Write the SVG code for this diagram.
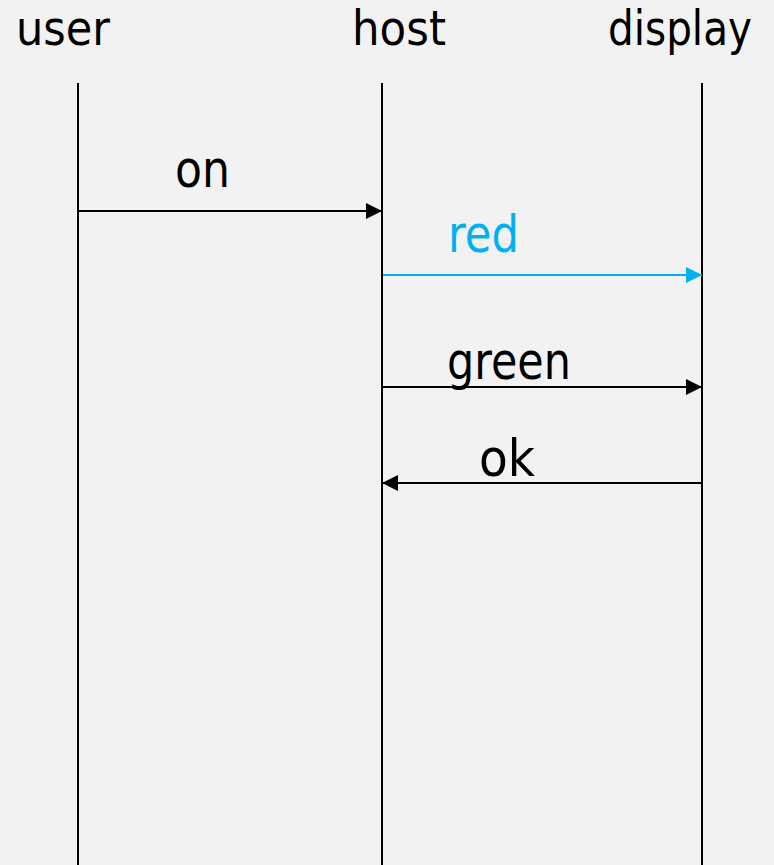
<svg xmlns="http://www.w3.org/2000/svg" width="774" height="865" viewBox="0 0 774 865">
  <style>
    .label { font-family: "DejaVu Sans", "Liberation Sans", sans-serif; font-size: 52px; fill: #000; }
    .head { font-size: 48px; }
    .lifeline { stroke: #000; stroke-width: 2; fill: none; }
    .msg { stroke: #000; stroke-width: 2; fill: none; marker-end: url(#head); }
    .msg.blue { stroke: #00b0f0; marker-end: url(#head-blue); }
    .blue-text { fill: #00b0f0; }
  </style>
  <defs>
    <marker id="head" markerUnits="userSpaceOnUse" markerWidth="16" markerHeight="16" refX="16" refY="8" orient="auto">
      <path d="M0,0 L16,8 L0,16 Z" fill="#000"/>
    </marker>
    <marker id="head-blue" markerUnits="userSpaceOnUse" markerWidth="16" markerHeight="16" refX="16" refY="8" orient="auto">
      <path d="M0,0 L16,8 L0,16 Z" fill="#00b0f0"/>
    </marker>
  </defs>

  <rect width="774" height="865" fill="#f2f2f2"/>

  <!-- participants with their lifelines -->
  <g id="user">
    <text class="label head" x="16" y="45" textLength="94" lengthAdjust="spacingAndGlyphs">user</text>
    <line class="lifeline" x1="78" y1="83" x2="78" y2="865"/>
  </g>
  <g id="host">
    <text class="label head" x="352" y="45" textLength="94" lengthAdjust="spacingAndGlyphs">host</text>
    <line class="lifeline" x1="382" y1="83" x2="382" y2="865"/>
  </g>
  <g id="display">
    <!-- narrowed horizontally so the title keeps clear of the right edge -->
    <text class="label head" transform="translate(608,45) scale(0.845,1)" x="0" y="0">display</text>
    <line class="lifeline" x1="702" y1="83" x2="702" y2="865"/>
  </g>

  <!-- messages -->
  <g id="connectors">
    <line class="msg" x1="79" y1="211" x2="382" y2="211"/>
    <text class="label" x="175" y="187" textLength="55" lengthAdjust="spacingAndGlyphs">on</text>

    <line class="msg blue" x1="383" y1="275" x2="702" y2="275"/>
    <text class="label blue-text" x="448" y="252" textLength="71" lengthAdjust="spacingAndGlyphs">red</text>

    <line class="msg" x1="383" y1="387" x2="702" y2="387"/>
    <text class="label" x="447" y="379" textLength="124" lengthAdjust="spacingAndGlyphs">green</text>

    <line class="msg" x1="701" y1="483" x2="382" y2="483"/>
    <text class="label" x="479" y="476" textLength="56" lengthAdjust="spacingAndGlyphs">ok</text>
  </g>
</svg>
